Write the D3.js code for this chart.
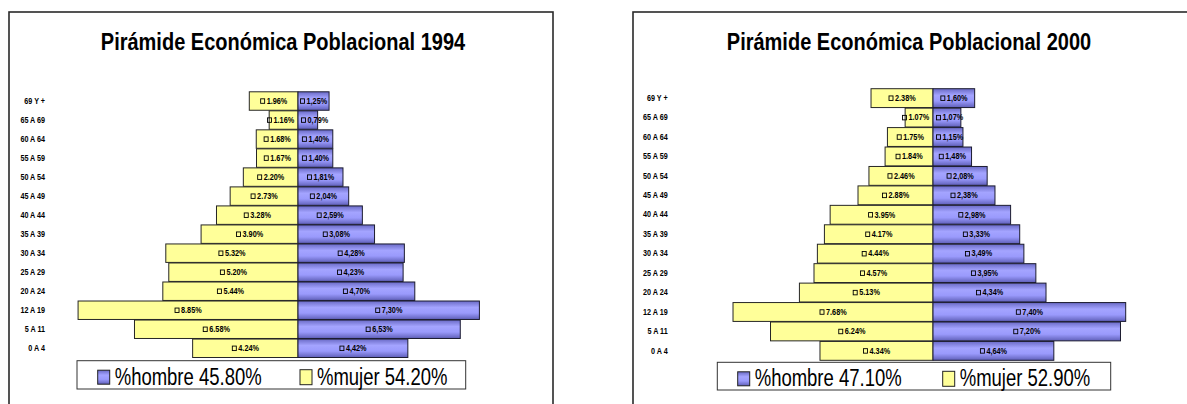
<!DOCTYPE html>
<html>
<head>
<meta charset="utf-8">
<script src="https://cdn.jsdelivr.net/npm/d3@7"></script>
<style>
  body { margin: 0; background: #fff; }
  svg { display: block; font-family: "Liberation Sans", Arial, sans-serif; }
</style>
</head>
<body>
<svg width="1187" height="404"></svg>
<script>
// age groups, top to bottom
var grupos = ["69 Y +", "65 A 69", "60 A 64", "55 A 59", "50 A 54", "45 A 49", "40 A 44",
              "35 A 39", "30 A 34", "25 A 29", "20 A 24", "12 A 19", "5 A 11", "0 A 4"];

var mujer1994  = [1.96, 1.16, 1.68, 1.67, 2.20, 2.73, 3.28, 3.90, 5.32, 5.20, 5.44, 8.85, 6.58, 4.24];
var hombre1994 = [1.25, 0.79, 1.40, 1.40, 1.81, 2.04, 2.59, 3.08, 4.28, 4.23, 4.70, 7.30, 6.53, 4.42];
var mujer2000  = [2.38, 1.07, 1.75, 1.84, 2.46, 2.88, 3.95, 4.17, 4.44, 4.57, 5.13, 7.68, 6.24, 4.34];
var hombre2000 = [1.60, 1.07, 1.15, 1.48, 2.08, 2.38, 2.98, 3.33, 3.49, 3.95, 4.34, 7.40, 7.20, 4.64];

var titulos = ["Pirámide Económica Poblacional 1994", "Pirámide Económica Poblacional 2000"];
var leyendaHombre = ["%hombre 45.80%", "%hombre 47.10%"];
var leyendaMujer  = ["%mujer 54.20%", "%mujer 52.90%"];

var svg = d3.select("svg");

var defs = svg.append("defs");
var grad = defs.append("linearGradient").attr("id", "azul")
    .attr("x1", 0).attr("y1", 0).attr("x2", 0).attr("y2", 1);
grad.append("stop").attr("offset", "0%").attr("stop-color", "#6a6ac6");
grad.append("stop").attr("offset", "35%").attr("stop-color", "#a4a4ff");
grad.append("stop").attr("offset", "65%").attr("stop-color", "#9a9afc");
grad.append("stop").attr("offset", "100%").attr("stop-color", "#5f5fb8");

// stretched text, the source picture is taller than wide
function texto(g, x, y, str, size, sy, anchor, weight) {
  return g.append("text")
    .attr("transform", "translate(" + x + "," + y + ") scale(1," + sy + ")")
    .attr("font-size", size)
    .attr("font-weight", weight || "normal")
    .attr("text-anchor", anchor || "start")
    .attr("fill", "#000")
    .text(str);
}

function piramide(o) {
  var g = svg.append("g");

  // frame
  g.append("rect").attr("x", o.frame[0]).attr("y", 12)
    .attr("width", o.frame[1] - o.frame[0]).attr("height", 420)
    .attr("fill", "none").attr("stroke", "#2a2a2a").attr("stroke-width", 1.6);

  texto(g, o.titleX, 50, o.titulo, 20, 1.24, "middle", "bold");

  var y = d3.scaleBand().domain(grupos).range(o.yRange).paddingInner(0.03);
  var x = d3.scaleLinear().domain([0, 10]).range([0, o.ppp * 10]);

  var filas = grupos.map(function(k, i) {
    return { grupo: k, m: o.mujer[i], h: o.hombre[i] };
  });

  // category labels
  filas.forEach(function(d) {
    texto(g, o.labelX, y(d.grupo) + y.bandwidth() / 2 + 2.7, d.grupo, 7.2, 1.25, "end", "bold");
  });

  g.selectAll(".mujer").data(filas).enter().append("rect")
    .attr("x", function(d) { return o.cx - x(d.m); })
    .attr("y", function(d) { return y(d.grupo); })
    .attr("width", function(d) { return x(d.m); })
    .attr("height", y.bandwidth())
    .attr("fill", "#ffff99").attr("stroke", "#262626").attr("stroke-width", 1);

  g.selectAll(".hombre").data(filas).enter().append("rect")
    .attr("x", o.cx)
    .attr("y", function(d) { return y(d.grupo); })
    .attr("width", function(d) { return x(d.h); })
    .attr("height", y.bandwidth())
    .attr("fill", "url(#azul)").attr("stroke", "#1c1c30").attr("stroke-width", 1);

  var f = d3.format(".2f");
  var lw = 27;
  function etiqueta(x0, cy, str) {
    g.append("rect").attr("x", x0 + 0.5).attr("y", cy - 2.2)
      .attr("width", 4).attr("height", 4.5)
      .attr("fill", "none").attr("stroke", "#000").attr("stroke-width", 0.9);
    texto(g, x0 + 6.5, cy + 2.8, str, 7.3, 1.25, "start", "bold");
  }
  filas.forEach(function(d) {
    var cy = y(d.grupo) + y.bandwidth() / 2;
    var wm = x(d.m), wh = x(d.h);
    // narrow bars push their label away from the centre line
    var xm = wm > lw + 4 ? o.cx - wm / 2 - lw / 2 : o.cx - lw - 4;
    var xh = wh > lw + 4 ? o.cx + wh / 2 - lw / 2 : o.cx + 3;
    etiqueta(xm, cy, f(d.m) + "%");
    etiqueta(xh, cy, f(d.h).replace(".", ",") + "%");
  });

  // legend
  var L = o.legend;
  g.append("rect").attr("x", L.x0).attr("y", L.y0)
    .attr("width", L.x1 - L.x0).attr("height", L.y1 - L.y0)
    .attr("fill", "#fff").attr("stroke", "#333").attr("stroke-width", 1);
  g.append("rect").attr("x", L.hx).attr("y", L.y0 + 9.5).attr("width", 12).attr("height", 14)
    .attr("fill", "url(#azul)").attr("stroke", "#222").attr("stroke-width", 1);
  texto(g, L.hx + 17, L.y0 + 24, o.leyH, 18.5, 1.3, "start");
  g.append("rect").attr("x", L.mx).attr("y", L.y0 + 9).attr("width", 12).attr("height", 15)
    .attr("fill", "#ffff99").attr("stroke", "#222").attr("stroke-width", 1);
  texto(g, L.mx + 17, L.y0 + 24, o.leyM, 18.5, 1.3, "start");
}

piramide({
  frame: [9, 553], titleX: 283, titulo: titulos[0],
  cx: 298, ppp: 24.85, yRange: [91.8, 357.5], labelX: 45,
  mujer: mujer1994, hombre: hombre1994,
  leyH: leyendaHombre[0], leyM: leyendaMujer[0],
  legend: { x0: 77, x1: 465.7, y0: 360.7, y1: 389, hx: 97.7, mx: 300 }
});

piramide({
  frame: [633, 1200], titleX: 909, titulo: titulos[1],
  cx: 933, ppp: 26.04, yRange: [88.7, 360.3], labelX: 667.7,
  mujer: mujer2000, hombre: hombre2000,
  leyH: leyendaHombre[1], leyM: leyendaMujer[1],
  legend: { x0: 717.3, x1: 1110.7, y0: 362.3, y1: 390, hx: 737.7, mx: 942.7 }
});
</script>
</body>
</html>
